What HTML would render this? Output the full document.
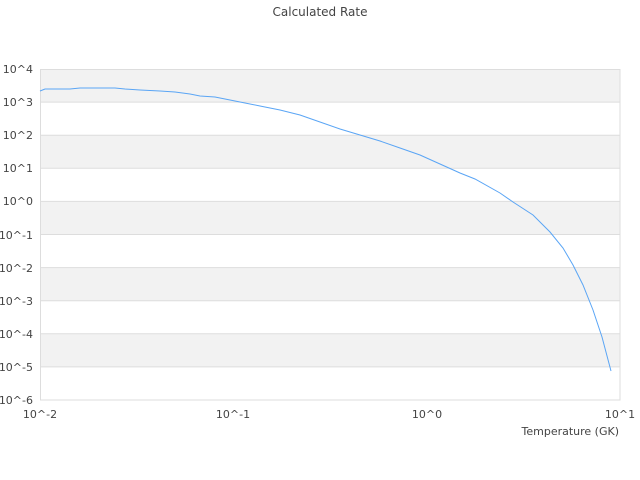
<!DOCTYPE html>
<html><head><style>body{margin:0;background:#fff}svg{display:block}text{font-family:"DejaVu Sans","Liberation Sans",sans-serif;fill:#444;font-size:11px}</style></head><body>
<svg width="640" height="480" xmlns="http://www.w3.org/2000/svg">
<text x="320" y="16" text-anchor="middle" style="font-size:12px">Calculated Rate</text>
<g fill="#f2f2f2">
<rect x="40" y="69" width="580" height="33.1"/>
<rect x="40" y="135.2" width="580" height="33.1"/>
<rect x="40" y="201.4" width="580" height="33.1"/>
<rect x="40" y="267.6" width="580" height="33.1"/>
<rect x="40" y="333.8" width="580" height="33.1"/>
</g>
<g stroke="#ddd" stroke-width="1">
<line x1="40" y1="102.1" x2="620" y2="102.1"/><line x1="40" y1="135.2" x2="620" y2="135.2"/>
<line x1="40" y1="168.3" x2="620" y2="168.3"/><line x1="40" y1="201.4" x2="620" y2="201.4"/>
<line x1="40" y1="234.5" x2="620" y2="234.5"/><line x1="40" y1="267.6" x2="620" y2="267.6"/>
<line x1="40" y1="300.7" x2="620" y2="300.7"/><line x1="40" y1="333.8" x2="620" y2="333.8"/>
<line x1="40" y1="366.9" x2="620" y2="366.9"/>
</g>
<rect x="40.5" y="69.5" width="579.5" height="330.5" fill="none" stroke="#ddd"/>
<polyline fill="none" stroke="#5aa5f5" stroke-width="1" points="40,91 45,89 70,89 80,88 115,88 125,89 140,90 160,91 175,92 190,94 200,96 215,97 230,100 245,103 260,106 280,110 300,115 320,122 340,129 360,135 380,141 400,148 420,155 440,164 460,173 475,179 500,193 513,202 533,215 550,232 563,248 573,265 583,285 593,310 602,337 611,371"/>
<g text-anchor="end">
<text x="33" y="73">10^4</text><text x="33" y="106">10^3</text><text x="33" y="139">10^2</text>
<text x="33" y="172">10^1</text><text x="33" y="205">10^0</text><text x="33" y="239">10^-1</text>
<text x="33" y="272">10^-2</text><text x="33" y="305">10^-3</text><text x="33" y="338">10^-4</text>
<text x="33" y="371">10^-5</text><text x="33" y="404">10^-6</text>
</g>
<g text-anchor="middle">
<text x="40" y="418">10^-2</text><text x="233" y="418">10^-1</text>
<text x="427" y="418">10^0</text><text x="620" y="418">10^1</text>
</g>
<text x="619" y="435" text-anchor="end">Temperature (GK)</text>
</svg>
</body></html>
